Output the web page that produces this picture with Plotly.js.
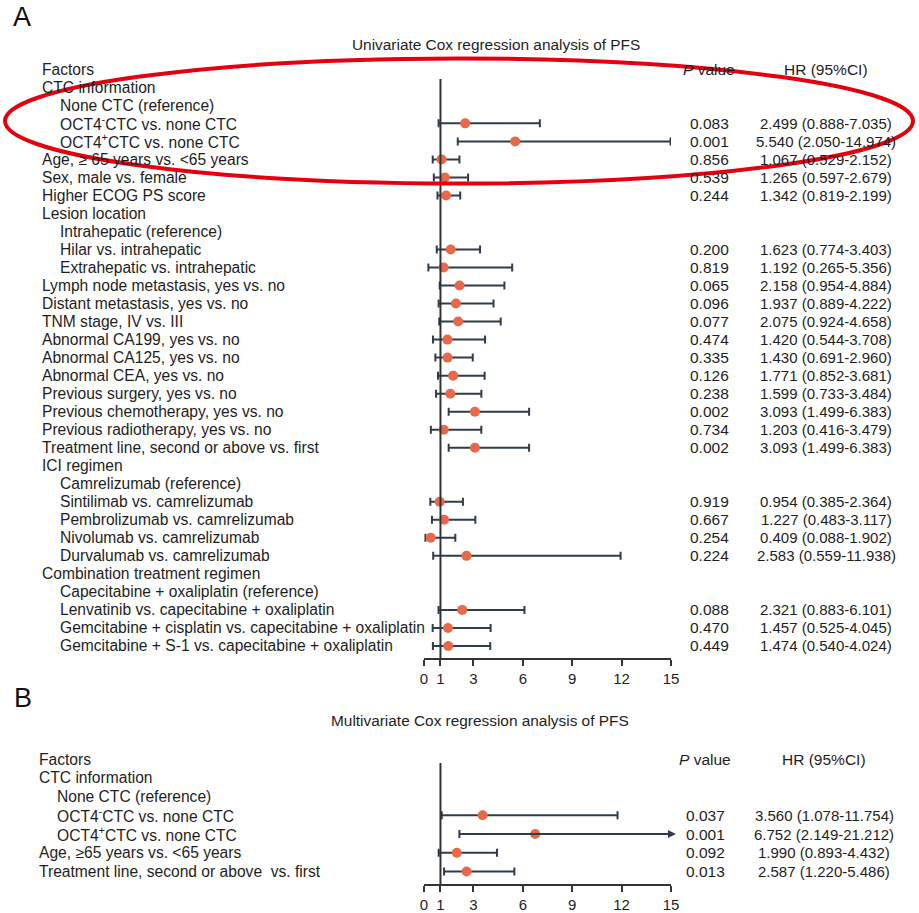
<!DOCTYPE html>
<html>
<head>
<meta charset="utf-8">
<script src="https://cdn.plot.ly/plotly-3.0.1.min.js"></script>
<style>
html,body{margin:0;padding:0;background:#fff;}
#chart{width:919px;height:913px;}
</style>
</head>
<body>
<div id="chart"></div>
<script>
// ---------------- DATA ----------------
// Panel A: univariate
const uniFactors = [
  "Factors",
  "CTC information",
  "None CTC (reference)",
  "OCT4<sup>-</sup>CTC vs. none CTC",
  "OCT4<sup>+</sup>CTC vs. none CTC",
  "Age, ≥ 65 years vs. &lt;65 years",
  "Sex, male vs. female",
  "Higher ECOG PS score",
  "Lesion location",
  "Intrahepatic (reference)",
  "Hilar vs. intrahepatic",
  "Extrahepatic vs. intrahepatic",
  "Lymph node metastasis, yes vs. no",
  "Distant metastasis, yes vs. no",
  "TNM stage, IV vs. III",
  "Abnormal CA199, yes vs. no",
  "Abnormal CA125, yes vs. no",
  "Abnormal CEA, yes vs. no",
  "Previous surgery, yes vs. no",
  "Previous chemotherapy, yes vs. no",
  "Previous radiotherapy, yes vs. no",
  "Treatment line, second or above vs. first",
  "ICI regimen",
  "Camrelizumab (reference)",
  "Sintilimab vs. camrelizumab",
  "Pembrolizumab vs. camrelizumab",
  "Nivolumab vs. camrelizumab",
  "Durvalumab vs. camrelizumab",
  "Combination treatment regimen",
  "Capecitabine + oxaliplatin (reference)",
  "Lenvatinib vs. capecitabine + oxaliplatin",
  "Gemcitabine + cisplatin vs. capecitabine + oxaliplatin",
  "Gemcitabine + S-1 vs. capecitabine + oxaliplatin"
];
const uniIndent = [0,0,1,1,1,0,0,0,0,1,1,1,0,0,0,0,0,0,0,0,0,0,0,1,1,1,1,1,0,1,1,1,1];
const uniHR   = [null,null,null,2.499,5.540,1.067,1.265,1.342,null,null,1.623,1.192,2.158,1.937,2.075,1.420,1.430,1.771,1.599,3.093,1.203,3.093,null,null,0.954,1.227,0.409,2.583,null,null,2.321,1.457,1.474];
const uniLow  = [null,null,null,0.888,2.050,0.529,0.597,0.819,null,null,0.774,0.265,0.954,0.889,0.924,0.544,0.691,0.852,0.733,1.499,0.416,1.499,null,null,0.385,0.483,0.088,0.559,null,null,0.883,0.525,0.540];
const uniHigh = [null,null,null,7.035,14.974,2.152,2.679,2.199,null,null,3.403,5.356,4.884,4.222,4.658,3.708,2.960,3.681,3.484,6.383,3.479,6.383,null,null,2.364,3.117,1.902,11.938,null,null,6.101,4.045,4.024];
const uniP    = [null,null,null,"0.083","0.001","0.856","0.539","0.244",null,null,"0.200","0.819","0.065","0.096","0.077","0.474","0.335","0.126","0.238","0.002","0.734","0.002",null,null,"0.919","0.667","0.254","0.224",null,null,"0.088","0.470","0.449"];

// Panel B: multivariate
const multiFactors = [
  "Factors",
  "CTC information",
  "None CTC (reference)",
  "OCT4<sup>-</sup>CTC vs. none CTC",
  "OCT4<sup>+</sup>CTC vs. none CTC",
  "Age, ≥65 years vs. &lt;65 years",
  "Treatment line, second or above  vs. first"
];
const multiIndent = [0,0,1,1,1,0,0];
const multiHR   = [null,null,null,3.560,6.752,1.990,2.587];
const multiLow  = [null,null,null,1.078,2.149,0.893,1.220];
const multiHigh = [null,null,null,11.754,21.212,4.432,5.486];
const multiP    = [null,null,null,"0.037","0.001","0.092","0.013"];

const xTickVals = [0,1,3,6,9,12,15];
const xTickText = ["0","1","3","6","9","12","15"];
const titleA = "Univariate Cox regression analysis of PFS";
const titleB = "Multivariate Cox regression analysis of PFS";
const headP = "<i>P</i> value";
const headHR = "HR (95%CI)";

// ---------------- LAYOUT HELPERS ----------------
const W = 919, H = 913;
const FONT = "'Liberation Sans', Arial, 'DejaVu Sans', sans-serif";
const TXT = "#1e1e1e";
const DOT = "#e8684a";
const BAR = "#2e3d49";
const AXC = "#333333";
const px2x = p => p / W;
const px2y = p => (H - p) / H;
const fmt = v => v.toFixed(3);
const LBL = 15.6, PVS = 15.5, HRS = 15;

// Panel geometry (pixels)
const A = {row0: 69.3, pitch: 18.02, bottomRow: 32.67, topRow: -0.8, refTop: 0.54, pCol: 709, hrCol: 826};
const B = {row0: 759, pitch: 18.75, bottomRow: 6.67, topRow: -0.8, refTop: 0.21, pCol: 705, hrCol: 824};
const rowPx = (P, r) => P.row0 + P.pitch * r;
const xDom = [px2x(424), px2x(671)];
const xMax = 15;

function buildPanel(P, factors, indent, hr, lo, hi, pv, xa, ya, indentPx) {
  const rows = factors.map((_, i) => i);
  const ann = [];
  factors.forEach((f, i) => {
    ann.push({xref: 'paper', yref: ya, x: px2x(indent[i] ? indentPx[1] : indentPx[0]), y: i,
      xanchor: 'left', yanchor: 'middle', text: f, showarrow: false,
      font: {family: FONT, size: LBL, color: TXT}});
  });
  const idx = rows.filter(i => hr[i] !== null);
  idx.forEach(i => {
    ann.push({xref: 'paper', yref: ya, x: px2x(P.pCol), y: i, xanchor: 'center', yanchor: 'middle',
      text: pv[i], showarrow: false, font: {family: FONT, size: PVS, color: TXT}});
    ann.push({xref: 'paper', yref: ya, x: px2x(P.hrCol), y: i, xanchor: 'center', yanchor: 'middle',
      text: fmt(hr[i]) + " (" + fmt(lo[i]) + "-" + fmt(hi[i]) + ")", showarrow: false,
      font: {family: FONT, size: HRS, color: TXT}});
    if (hi[i] > xMax) {
      ann.push({xref: xa, yref: ya, axref: xa, ayref: ya, x: xMax + 0.3, y: i, ax: lo[i], ay: i,
        text: '', showarrow: true, arrowhead: 2, arrowsize: 0.8, arrowwidth: 2, arrowcolor: BAR, standoff: 0, startstandoff: 0});
    }
  });
  ann.push({xref: 'paper', yref: ya, x: px2x(P.pCol), y: 0, xanchor: 'center', yanchor: 'middle',
    text: headP, showarrow: false, font: {family: FONT, size: PVS, color: TXT}});
  ann.push({xref: 'paper', yref: ya, x: px2x(P.hrCol), y: 0, xanchor: 'center', yanchor: 'middle',
    text: headHR, showarrow: false, font: {family: FONT, size: PVS, color: TXT}});

  const trace = {
    type: 'scatter', mode: 'markers', xaxis: xa, yaxis: ya,
    x: idx.map(i => hr[i]), y: idx,
    marker: {color: DOT, size: 10},
    error_x: {type: 'data', symmetric: false,
      array: idx.map(i => hi[i] > xMax ? 0 : hi[i] - hr[i]),
      arrayminus: idx.map(i => hr[i] - lo[i]),
      color: BAR, thickness: 2, width: 4},
    hoverinfo: 'skip', cliponaxis: false
  };
  const shape = {type: 'line', xref: xa, yref: ya, x0: 1, x1: 1, y0: P.refTop, y1: P.bottomRow,
    line: {color: AXC, width: 2}};
  return {trace, ann, shape};
}

const pa = buildPanel(A, uniFactors, uniIndent, uniHR, uniLow, uniHigh, uniP, 'x', 'y', [39.5, 57.5]);
const pb = buildPanel(B, multiFactors, multiIndent, multiHR, multiLow, multiHigh, multiP, 'x2', 'y2', [37, 55]);

const axisX = (anchor) => ({
  domain: xDom, range: [0, xMax], anchor: anchor,
  tickmode: 'array', tickvals: xTickVals, ticktext: xTickText,
  showline: true, linecolor: AXC, linewidth: 2,
  ticks: 'outside', ticklen: 6, tickwidth: 2, tickcolor: AXC,
  showgrid: false, zeroline: false,
  tickfont: {family: FONT, size: 15, color: TXT}, fixedrange: true
});
const axisY = (P, anchor) => ({
  domain: [px2y(rowPx(P, P.bottomRow)), px2y(rowPx(P, P.topRow))],
  range: [P.bottomRow, P.topRow], anchor: anchor,
  showline: false, showgrid: false, zeroline: false, showticklabels: false, ticks: '', fixedrange: true
});

const extraAnn = [
  {xref: 'paper', yref: 'paper', x: px2x(11), y: px2y(17), xanchor: 'left', yanchor: 'middle',
    text: 'A', showarrow: false, font: {family: FONT, size: 27, color: '#111'}},
  {xref: 'paper', yref: 'paper', x: px2x(12), y: px2y(698), xanchor: 'left', yanchor: 'middle',
    text: 'B', showarrow: false, font: {family: FONT, size: 27, color: '#111'}},
  {xref: 'paper', yref: 'paper', x: px2x(496.5), y: px2y(45), xanchor: 'center', yanchor: 'middle',
    text: titleA, showarrow: false, font: {family: FONT, size: 15.4, color: TXT}},
  {xref: 'paper', yref: 'paper', x: px2x(480), y: px2y(720), xanchor: 'center', yanchor: 'middle',
    text: titleB, showarrow: false, font: {family: FONT, size: 15.4, color: TXT}}
];

const layout = {
  width: W, height: H,
  margin: {l: 0, r: 0, t: 0, b: 0, pad: 0},
  paper_bgcolor: '#ffffff', plot_bgcolor: 'rgba(0,0,0,0)',
  showlegend: false,
  xaxis: axisX('y'), yaxis: axisY(A, 'x'),
  xaxis2: axisX('y2'), yaxis2: axisY(B, 'x2'),
  annotations: pa.ann.concat(pb.ann, extraAnn),
  shapes: [pa.shape, pb.shape,
    {type: 'circle', xref: 'paper', yref: 'paper', layer: 'above',
     x0: px2x(5), x1: px2x(913), y0: px2y(183.5), y1: px2y(58.5),
     line: {color: '#e3000f', width: 4}}]
};

Plotly.newPlot('chart', [pa.trace, pb.trace], layout, {staticPlot: true, displayModeBar: false});
</script>
</body>
</html>
